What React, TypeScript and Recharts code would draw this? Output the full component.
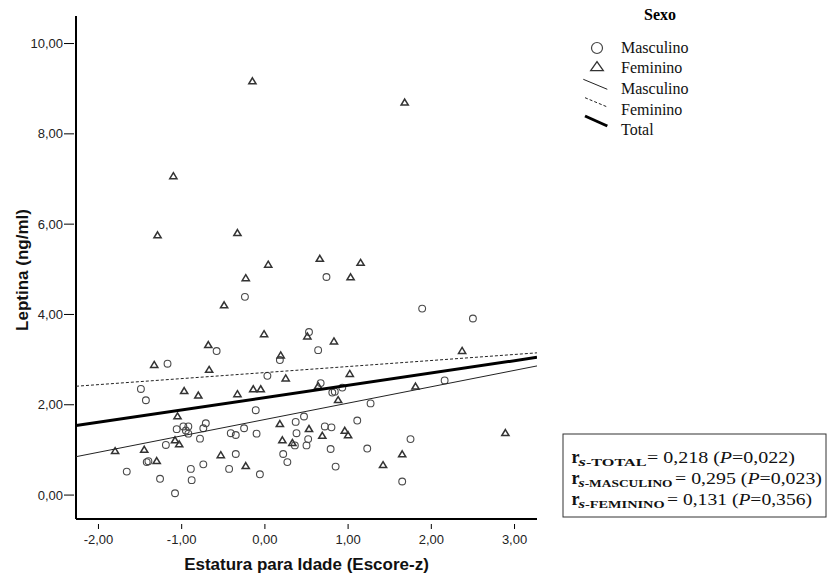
import React from "react"
import { ScatterChart, Scatter, XAxis, YAxis } from "recharts"

// eixos
const xTicks = [-2, -1, 0, 1, 2, 3]
const yTicks = [0, 2, 4, 6, 8, 10]

// [escore-z, leptina]
const masculino: [number, number][] = [
  [-0.24, 4.39], [0.74, 4.83], [1.89, 4.13], [2.5, 3.91], [2.16, 2.54], [1.75, 1.24], [1.65, 0.3],
  [-0.58, 3.19], [-1.17, 2.91], [-1.49, 2.35], [-1.43, 2.1], [-1.06, 1.46], [-0.98, 1.52],
  [-0.92, 1.52], [-0.95, 1.43], [-0.92, 1.36], [-0.71, 1.59], [-0.74, 1.48], [-0.41, 1.37],
  [-0.35, 1.33], [-0.78, 1.25], [-1.19, 1.11], [-1.42, 0.73], [-1.4, 0.75], [-0.35, 0.91],
  [-1.66, 0.52], [-1.26, 0.36], [-0.89, 0.58], [-0.74, 0.68], [-0.43, 0.58], [-0.88, 0.33],
  [-1.08, 0.04], [0.53, 3.61], [0.64, 3.21], [0.18, 2.99], [0.03, 2.64], [0.67, 2.48],
  [0.81, 2.27], [0.84, 2.29], [0.93, 2.38], [1.27, 2.03], [-0.11, 1.88], [0.47, 1.74],
  [0.37, 1.62], [1.11, 1.65], [-0.25, 1.48], [-0.1, 1.36], [0.72, 1.52], [0.8, 1.5],
  [0.38, 1.37], [0.52, 1.24], [0.36, 1.1], [0.5, 1.1], [0.79, 1.02], [1.23, 1.03],
  [0.22, 0.91], [0.27, 0.73], [0.85, 0.63], [-0.06, 0.46],
]

const feminino: [number, number][] = [
  [-0.15, 9.17], [-1.1, 7.07], [-1.29, 5.76], [-0.33, 5.81], [0.04, 5.11], [-0.23, 4.81],
  [-0.49, 4.21], [1.68, 8.7], [0.66, 5.24], [1.15, 5.15], [1.03, 4.83], [2.37, 3.2],
  [1.81, 2.41], [2.89, 1.38], [1.65, 0.91], [-0.68, 3.33], [-1.33, 2.89], [-0.67, 2.78],
  [-0.97, 2.31], [-0.8, 2.21], [-0.33, 2.24], [-1.05, 1.75], [-1.08, 1.22], [-1.03, 1.13],
  [-1.8, 0.98], [-1.45, 1.01], [-1.3, 0.76], [-0.53, 0.89], [-0.01, 3.57], [0.51, 3.52],
  [0.83, 3.41], [0.19, 3.1], [0.25, 2.59], [1.02, 2.69], [-0.14, 2.35], [-0.05, 2.35],
  [0.64, 2.42], [0.88, 2.11], [0.18, 1.58], [0.53, 1.47], [0.69, 1.32], [0.96, 1.43],
  [1.0, 1.33], [0.21, 1.22], [0.33, 1.16], [1.42, 0.67], [-0.23, 0.65],
]

// retas de ajuste (extremos)
const fitMasculino: [number, number][] = [[-2.27, 0.85], [3.27, 2.86]]
const fitFeminino: [number, number][] = [[-2.27, 2.41], [3.27, 3.15]]
const fitTotal: [number, number][] = [[-2.27, 1.54], [3.27, 3.05]]

const toPts = (arr: [number, number][]) => arr.map(([x, y]) => ({ x, y }))

const fmt = (v: number) => v.toFixed(2).replace(".", ",")

const XTick = (props: any) => {
  const { x, y, payload } = props
  return (
    <g>
      <line x1={x} x2={x} y1={y + 3} y2={y + 8} stroke="#000" strokeWidth={1} />
      <text x={x} y={y + 22.5} textAnchor="middle" fontSize={13} fill="#222" fontFamily="Liberation Sans, Arial, sans-serif">
        {fmt(payload.value)}
      </text>
    </g>
  )
}

const YTick = (props: any) => {
  const { x, y, payload } = props
  return (
    <g>
      <line x1={x - 10} x2={x} y1={y} y2={y} stroke="#000" strokeWidth={1} />
      <text x={x - 11} y={y + 4.5} textAnchor="end" fontSize={13} fill="#222" fontFamily="Liberation Sans, Arial, sans-serif">
        {fmt(payload.value)}
      </text>
    </g>
  )
}

const Circle = (props: any) => (
  <circle cx={props.cx} cy={props.cy} r={3.4} fill="none" stroke="#4a4a4a" strokeWidth={1.1} />
)

const Triangle = (props: any) => {
  const { cx, cy } = props
  return (
    <path
      d={`M${cx},${cy - 3.2} L${cx + 3.6},${cy + 2.8} L${cx - 3.6},${cy + 2.8} Z`}
      fill="none"
      stroke="#333"
      strokeWidth={1.5}
    />
  )
}

const NoShape = () => <g />

export default function App() {
  const serif = "Liberation Serif, Times New Roman, serif"
  const sans = "Liberation Sans, Arial, sans-serif"
  return (
    <div style={{ position: "absolute", left: 0, top: 0, width: 827, height: 579, background: "#fff" }}>
      <ScatterChart width={827} height={579} margin={{ top: 16, right: 290, bottom: 0, left: 0 }}>
        <XAxis
          type="number"
          dataKey="x"
          domain={[-2.27, 3.27]}
          ticks={xTicks}
          interval={0}
          allowDataOverflow
          height={60}
          tickSize={0}
          tickLine={false}
          axisLine={{ stroke: "#000", strokeWidth: 2 }}
          tick={<XTick />}
        />
        <YAxis
          type="number"
          dataKey="y"
          domain={[-0.53, 10.61]}
          ticks={yTicks}
          interval={0}
          allowDataOverflow
          width={76}
          tickSize={0}
          tickLine={false}
          axisLine={{ stroke: "#000", strokeWidth: 2 }}
          tick={<YTick />}
        />
        <Scatter data={toPts(masculino)} shape={<Circle />} isAnimationActive={false} />
        <Scatter data={toPts(feminino)} shape={<Triangle />} isAnimationActive={false} />
        <Scatter data={toPts(fitMasculino)} line={{ stroke: "#222", strokeWidth: 1 }} shape={<NoShape />} isAnimationActive={false} />
        <Scatter data={toPts(fitFeminino)} line={{ stroke: "#222", strokeWidth: 1, strokeDasharray: "3 2" }} shape={<NoShape />} isAnimationActive={false} />
        <Scatter data={toPts(fitTotal)} line={{ stroke: "#000", strokeWidth: 3 }} shape={<NoShape />} isAnimationActive={false} />
      </ScatterChart>

      <svg width={827} height={579} style={{ position: "absolute", left: 0, top: 0, pointerEvents: "none" }}>
        {/* títulos dos eixos */}
        <text x={28} y={270} transform="rotate(-90 28 270)" textAnchor="middle" fontFamily={sans} fontWeight="bold" fontSize={17} fill="#111">
          Leptina (ng/ml)
        </text>
        <text x={306.5} y={570} textAnchor="middle" fontFamily={sans} fontWeight="bold" fontSize={17} fill="#111">
          Estatura para Idade (Escore-z)
        </text>

        {/* legenda */}
        <text x={660} y={20} textAnchor="middle" fontFamily={serif} fontWeight="bold" fontSize={16} fill="#000">Sexo</text>
        <circle cx={597} cy={48} r={5.5} fill="none" stroke="#444" strokeWidth={1.2} />
        <path d="M597,61.7 L603.3,70.7 L590.7,70.7 Z" fill="none" stroke="#333" strokeWidth={1.3} />
        <line x1={583.3} y1={79.3} x2={607.3} y2={89.3} stroke="#222" strokeWidth={1} />
        <line x1={585} y1={97.7} x2={606.7} y2={106.7} stroke="#222" strokeWidth={1} strokeDasharray="3 2" />
        <line x1={585} y1={116} x2={607.3} y2={126} stroke="#000" strokeWidth={3} />
        <text x={621} y={53} fontFamily={serif} fontSize={16} fill="#111">Masculino</text>
        <text x={621} y={73} fontFamily={serif} fontSize={16} fill="#111">Feminino</text>
        <text x={621} y={94} fontFamily={serif} fontSize={16} fill="#111">Masculino</text>
        <text x={621} y={115} fontFamily={serif} fontSize={16} fill="#111">Feminino</text>
        <text x={621} y={135} fontFamily={serif} fontSize={16} fill="#111">Total</text>

        {/* correlações */}
        <rect x={563} y={434} width={263} height={83} fill="#fff" stroke="#333" strokeWidth={1} />
        <g fontFamily={serif} fill="#111">
          <text x={571.5} y={463} fontSize={18} fontWeight="bold">r</text>
          <text x={578.5} y={466} fontSize={11} fontWeight="bold" textLength={68} lengthAdjust="spacingAndGlyphs">
            <tspan fontStyle="italic" fontSize={13}>s</tspan>-TOTAL
          </text>
          <text x={647} y={463} fontSize={17} textLength={148} lengthAdjust="spacingAndGlyphs">
            = 0,218 (<tspan fontStyle="italic">P</tspan>=0,022)
          </text>

          <text x={571.5} y={484} fontSize={18} fontWeight="bold">r</text>
          <text x={578.5} y={487} fontSize={11} fontWeight="bold" textLength={94} lengthAdjust="spacingAndGlyphs">
            <tspan fontStyle="italic" fontSize={13}>s</tspan>-MASCULINO
          </text>
          <text x={675} y={484} fontSize={17} textLength={147} lengthAdjust="spacingAndGlyphs">
            = 0,295 (<tspan fontStyle="italic">P</tspan>=0,023)
          </text>

          <text x={571.5} y={505} fontSize={18} fontWeight="bold">r</text>
          <text x={578.5} y={508} fontSize={11} fontWeight="bold" textLength={86} lengthAdjust="spacingAndGlyphs">
            <tspan fontStyle="italic" fontSize={13}>s</tspan>-FEMININO
          </text>
          <text x={667} y={505} fontSize={17} textLength={145} lengthAdjust="spacingAndGlyphs">
            = 0,131 (<tspan fontStyle="italic">P</tspan>=0,356)
          </text>
        </g>
      </svg>
    </div>
  )
}
